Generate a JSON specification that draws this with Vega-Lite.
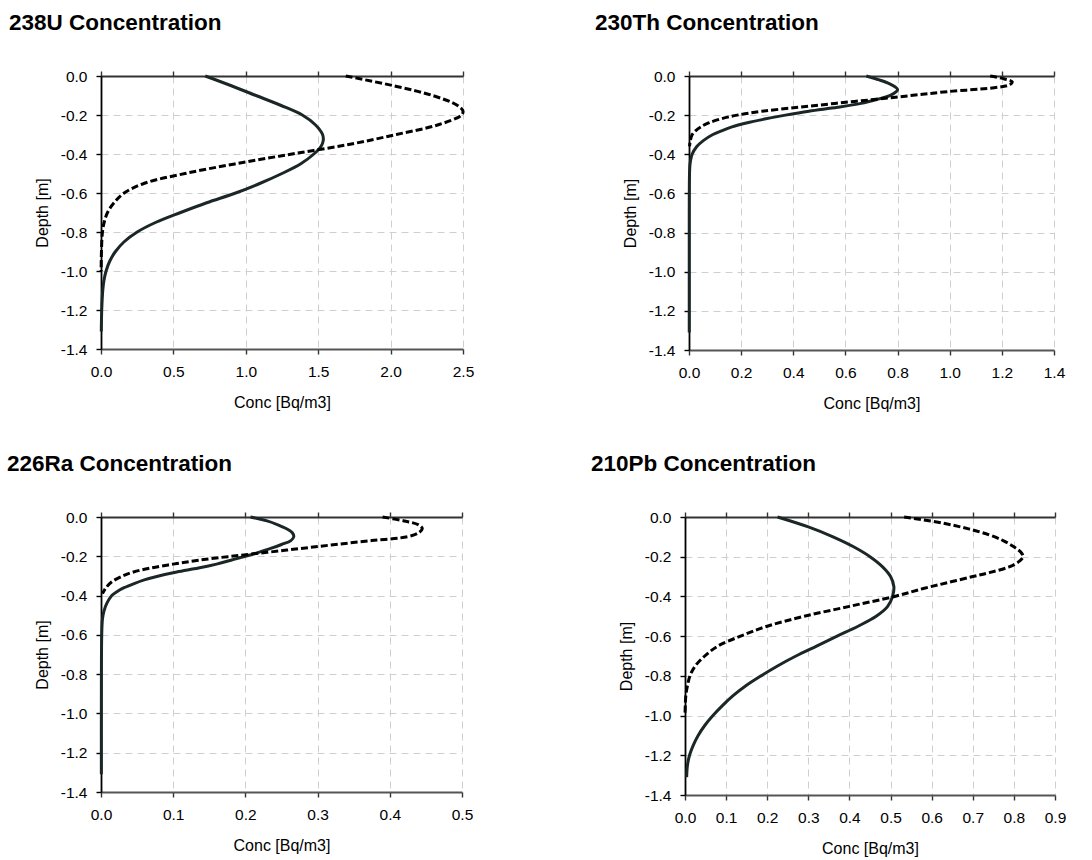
{
  "$schema": "https://vega.github.io/schema/vega-lite/v6.json",
  "autosize": {"type": "pad"},
  "padding": {"left": 7, "top": 11, "right": 5, "bottom": 5},
  "background": "white",
  "config": {
    "locale": {"number": {"decimal": ".", "thousands": ",", "grouping": [3], "currency": ["$", ""], "minus": "-"}},
    "font": "Liberation Sans",
    "view": {"stroke": null},
    "title": {"anchor": "start", "frame": "group", "fontSize": 22.5, "fontWeight": "bold", "color": "#000000", "offset": 35, "dx": -94, "font": "Liberation Sans"},
    "axis": {"labelFont": "Liberation Sans", "titleFont": "Liberation Sans", "labelFontSize": 15.5, "titleFontSize": 16, "titleFontWeight": "normal", "labelColor": "#000000", "titleColor": "#000000", "labelFlush": false, "labelOverlap": false, "gridColor": "#cfcfcf", "gridDash": [7, 5], "gridWidth": 1}
  },
  "datasets": {
    "u": [
      {"s": "a", "d": 0, "c": 0.72}, {"s": "a", "d": -0.05, "c": 0.9}, {"s": "a", "d": -0.1, "c": 1.07}, {"s": "a", "d": -0.15, "c": 1.24}, {"s": "a", "d": -0.2, "c": 1.39}, {"s": "a", "d": -0.25, "c": 1.48}, {"s": "a", "d": -0.3, "c": 1.53}, {"s": "a", "d": -0.33, "c": 1.535}, {"s": "a", "d": -0.36, "c": 1.52}, {"s": "a", "d": -0.4, "c": 1.47}, {"s": "a", "d": -0.45, "c": 1.38}, {"s": "a", "d": -0.5, "c": 1.25}, {"s": "a", "d": -0.55, "c": 1.1}, {"s": "a", "d": -0.6, "c": 0.93}, {"s": "a", "d": -0.65, "c": 0.73}, {"s": "a", "d": -0.7, "c": 0.55}, {"s": "a", "d": -0.75, "c": 0.38}, {"s": "a", "d": -0.8, "c": 0.25}, {"s": "a", "d": -0.85, "c": 0.16}, {"s": "a", "d": -0.9, "c": 0.1}, {"s": "a", "d": -0.95, "c": 0.06}, {"s": "a", "d": -1.0, "c": 0.035}, {"s": "a", "d": -1.05, "c": 0.02}, {"s": "a", "d": -1.1, "c": 0.012}, {"s": "a", "d": -1.2, "c": 0.005}, {"s": "a", "d": -1.31, "c": 0.002},
      {"s": "b", "d": 0, "c": 1.69}, {"s": "b", "d": -0.05, "c": 2.02}, {"s": "b", "d": -0.1, "c": 2.29}, {"s": "b", "d": -0.15, "c": 2.46}, {"s": "b", "d": -0.18, "c": 2.5}, {"s": "b", "d": -0.2, "c": 2.49}, {"s": "b", "d": -0.25, "c": 2.33}, {"s": "b", "d": -0.3, "c": 2.04}, {"s": "b", "d": -0.35, "c": 1.72}, {"s": "b", "d": -0.4, "c": 1.32}, {"s": "b", "d": -0.45, "c": 0.93}, {"s": "b", "d": -0.5, "c": 0.58}, {"s": "b", "d": -0.55, "c": 0.3}, {"s": "b", "d": -0.6, "c": 0.16}, {"s": "b", "d": -0.65, "c": 0.09}, {"s": "b", "d": -0.7, "c": 0.045}, {"s": "b", "d": -0.75, "c": 0.022}, {"s": "b", "d": -0.8, "c": 0.01}, {"s": "b", "d": -0.9, "c": 0.003}, {"s": "b", "d": -1.0, "c": 0.001}
    ],
    "th": [
      {"s": "a", "d": 0, "c": 0.68}, {"s": "a", "d": -0.02, "c": 0.73}, {"s": "a", "d": -0.04, "c": 0.77}, {"s": "a", "d": -0.06, "c": 0.795}, {"s": "a", "d": -0.07, "c": 0.8}, {"s": "a", "d": -0.08, "c": 0.795}, {"s": "a", "d": -0.1, "c": 0.77}, {"s": "a", "d": -0.12, "c": 0.72}, {"s": "a", "d": -0.14, "c": 0.66}, {"s": "a", "d": -0.16, "c": 0.57}, {"s": "a", "d": -0.18, "c": 0.46}, {"s": "a", "d": -0.2, "c": 0.37}, {"s": "a", "d": -0.22, "c": 0.29}, {"s": "a", "d": -0.24, "c": 0.22}, {"s": "a", "d": -0.26, "c": 0.165}, {"s": "a", "d": -0.28, "c": 0.125}, {"s": "a", "d": -0.3, "c": 0.09}, {"s": "a", "d": -0.33, "c": 0.055}, {"s": "a", "d": -0.36, "c": 0.03}, {"s": "a", "d": -0.4, "c": 0.012}, {"s": "a", "d": -0.45, "c": 0.004}, {"s": "a", "d": -0.5, "c": 0.002}, {"s": "a", "d": -0.7, "c": 0.001}, {"s": "a", "d": -1.0, "c": 0.001}, {"s": "a", "d": -1.31, "c": 0.001},
      {"s": "b", "d": 0, "c": 1.155}, {"s": "b", "d": -0.015, "c": 1.21}, {"s": "b", "d": -0.03, "c": 1.24}, {"s": "b", "d": -0.045, "c": 1.23}, {"s": "b", "d": -0.06, "c": 1.17}, {"s": "b", "d": -0.08, "c": 0.99}, {"s": "b", "d": -0.1, "c": 0.85}, {"s": "b", "d": -0.12, "c": 0.71}, {"s": "b", "d": -0.14, "c": 0.56}, {"s": "b", "d": -0.16, "c": 0.42}, {"s": "b", "d": -0.18, "c": 0.28}, {"s": "b", "d": -0.2, "c": 0.185}, {"s": "b", "d": -0.22, "c": 0.12}, {"s": "b", "d": -0.24, "c": 0.075}, {"s": "b", "d": -0.26, "c": 0.045}, {"s": "b", "d": -0.28, "c": 0.025}, {"s": "b", "d": -0.3, "c": 0.012}, {"s": "b", "d": -0.33, "c": 0.005}, {"s": "b", "d": -0.36, "c": 0.002}
    ],
    "ra": [
      {"s": "a", "d": 0, "c": 0.207}, {"s": "a", "d": -0.02, "c": 0.23}, {"s": "a", "d": -0.04, "c": 0.245}, {"s": "a", "d": -0.06, "c": 0.257}, {"s": "a", "d": -0.08, "c": 0.265}, {"s": "a", "d": -0.1, "c": 0.267}, {"s": "a", "d": -0.12, "c": 0.263}, {"s": "a", "d": -0.14, "c": 0.25}, {"s": "a", "d": -0.16, "c": 0.235}, {"s": "a", "d": -0.18, "c": 0.218}, {"s": "a", "d": -0.2, "c": 0.2}, {"s": "a", "d": -0.22, "c": 0.18}, {"s": "a", "d": -0.24, "c": 0.16}, {"s": "a", "d": -0.26, "c": 0.135}, {"s": "a", "d": -0.28, "c": 0.105}, {"s": "a", "d": -0.3, "c": 0.08}, {"s": "a", "d": -0.32, "c": 0.06}, {"s": "a", "d": -0.34, "c": 0.045}, {"s": "a", "d": -0.36, "c": 0.032}, {"s": "a", "d": -0.38, "c": 0.022}, {"s": "a", "d": -0.4, "c": 0.015}, {"s": "a", "d": -0.44, "c": 0.008}, {"s": "a", "d": -0.48, "c": 0.004}, {"s": "a", "d": -0.52, "c": 0.002}, {"s": "a", "d": -0.6, "c": 0.001}, {"s": "a", "d": -1.0, "c": 0.0005}, {"s": "a", "d": -1.31, "c": 0.0005},
      {"s": "b", "d": 0, "c": 0.39}, {"s": "b", "d": -0.02, "c": 0.42}, {"s": "b", "d": -0.04, "c": 0.44}, {"s": "b", "d": -0.06, "c": 0.445}, {"s": "b", "d": -0.08, "c": 0.44}, {"s": "b", "d": -0.1, "c": 0.425}, {"s": "b", "d": -0.12, "c": 0.375}, {"s": "b", "d": -0.14, "c": 0.325}, {"s": "b", "d": -0.16, "c": 0.277}, {"s": "b", "d": -0.18, "c": 0.23}, {"s": "b", "d": -0.2, "c": 0.18}, {"s": "b", "d": -0.22, "c": 0.135}, {"s": "b", "d": -0.24, "c": 0.1}, {"s": "b", "d": -0.26, "c": 0.068}, {"s": "b", "d": -0.28, "c": 0.045}, {"s": "b", "d": -0.3, "c": 0.03}, {"s": "b", "d": -0.33, "c": 0.015}, {"s": "b", "d": -0.36, "c": 0.007}, {"s": "b", "d": -0.39, "c": 0.002}
    ],
    "pb": [
      {"s": "a", "d": 0, "c": 0.225}, {"s": "a", "d": -0.05, "c": 0.3}, {"s": "a", "d": -0.1, "c": 0.36}, {"s": "a", "d": -0.15, "c": 0.41}, {"s": "a", "d": -0.2, "c": 0.45}, {"s": "a", "d": -0.25, "c": 0.48}, {"s": "a", "d": -0.3, "c": 0.5}, {"s": "a", "d": -0.35, "c": 0.508}, {"s": "a", "d": -0.4, "c": 0.505}, {"s": "a", "d": -0.45, "c": 0.493}, {"s": "a", "d": -0.5, "c": 0.465}, {"s": "a", "d": -0.55, "c": 0.421}, {"s": "a", "d": -0.6, "c": 0.37}, {"s": "a", "d": -0.65, "c": 0.32}, {"s": "a", "d": -0.7, "c": 0.27}, {"s": "a", "d": -0.75, "c": 0.225}, {"s": "a", "d": -0.8, "c": 0.185}, {"s": "a", "d": -0.85, "c": 0.148}, {"s": "a", "d": -0.9, "c": 0.117}, {"s": "a", "d": -0.95, "c": 0.091}, {"s": "a", "d": -1.0, "c": 0.068}, {"s": "a", "d": -1.05, "c": 0.048}, {"s": "a", "d": -1.1, "c": 0.032}, {"s": "a", "d": -1.15, "c": 0.02}, {"s": "a", "d": -1.2, "c": 0.011}, {"s": "a", "d": -1.25, "c": 0.006}, {"s": "a", "d": -1.31, "c": 0.004},
      {"s": "b", "d": 0, "c": 0.533}, {"s": "b", "d": -0.03, "c": 0.625}, {"s": "b", "d": -0.06, "c": 0.69}, {"s": "b", "d": -0.09, "c": 0.74}, {"s": "b", "d": -0.12, "c": 0.775}, {"s": "b", "d": -0.15, "c": 0.8}, {"s": "b", "d": -0.18, "c": 0.818}, {"s": "b", "d": -0.2, "c": 0.822}, {"s": "b", "d": -0.22, "c": 0.815}, {"s": "b", "d": -0.25, "c": 0.79}, {"s": "b", "d": -0.28, "c": 0.74}, {"s": "b", "d": -0.3, "c": 0.7}, {"s": "b", "d": -0.33, "c": 0.64}, {"s": "b", "d": -0.36, "c": 0.58}, {"s": "b", "d": -0.4, "c": 0.51}, {"s": "b", "d": -0.45, "c": 0.4}, {"s": "b", "d": -0.5, "c": 0.29}, {"s": "b", "d": -0.55, "c": 0.2}, {"s": "b", "d": -0.6, "c": 0.135}, {"s": "b", "d": -0.65, "c": 0.08}, {"s": "b", "d": -0.7, "c": 0.048}, {"s": "b", "d": -0.75, "c": 0.025}, {"s": "b", "d": -0.8, "c": 0.012}, {"s": "b", "d": -0.85, "c": 0.006}, {"s": "b", "d": -0.9, "c": 0.002}, {"s": "b", "d": -1.0, "c": 0.0}
    ]
  },
  "spacing": 441,
  "bounds": "flush",
  "vconcat": [
    {
      "spacing": 226,
      "bounds": "flush",
      "hconcat": [
        {
          "title": {"text": "238U Concentration", "dx": -92},
          "width": 362, "height": 273,
          "data": {"name": "u"},
          "layer": [
            {
              "transform": [{"filter": "datum.s == 'a'"}],
              "mark": {"type": "line", "color": "#1b2727", "strokeWidth": 3, "interpolate": "catmull-rom"},
              "encoding": {
                "x": {"field": "c", "type": "quantitative", "scale": {"domain": [0, 2.5], "nice": false}, "axis": {"orient": "bottom", "values": [0, 0.5, 1, 1.5, 2, 2.5], "format": ".1f", "title": "Conc [Bq/m3]", "labelPadding": 10, "titlePadding": 15, "domain": true, "ticks": true, "domainColor": "#555555", "domainWidth": 1.8, "tickColor": "#333333", "tickSize": 5, "tickWidth": 1.4}},
                "y": {"field": "d", "type": "quantitative", "scale": {"domain": [-1.4, 0], "nice": false}, "axis": {"orient": "left", "values": [-1.4, -1.2, -1.0, -0.8, -0.6, -0.4, -0.2, 0], "format": ".1f", "title": "Depth [m]", "labelPadding": 9, "titlePadding": 10, "domain": true, "ticks": true, "domainColor": "#000000", "domainWidth": 1.8, "tickColor": "#000000", "tickSize": 5, "tickWidth": 1.4}},
                "order": {"field": "d", "sort": "descending"}
              }
            },
            {
              "transform": [{"filter": "datum.s == 'b'"}],
              "mark": {"type": "line", "color": "#000000", "strokeWidth": 3, "strokeDash": [7, 3], "interpolate": "catmull-rom"},
              "encoding": {
                "x": {"field": "c", "type": "quantitative", "scale": {"domain": [0, 2.5], "nice": false}, "axis": {"orient": "top", "values": [0, 0.5, 1, 1.5, 2, 2.5], "labels": false, "grid": false, "title": null, "domain": true, "ticks": true, "domainColor": "#333333", "domainWidth": 1.8, "tickColor": "#333333", "tickSize": 5, "tickWidth": 1.4}},
                "y": {"field": "d", "type": "quantitative", "scale": {"domain": [-1.4, 0], "nice": false}, "axis": {"orient": "left", "values": [-1.4, -1.2, -1.0, -0.8, -0.6, -0.4, -0.2, 0], "format": ".1f", "title": "Depth [m]", "labelPadding": 9, "titlePadding": 10, "domain": true, "ticks": true, "domainColor": "#000000", "domainWidth": 1.8, "tickColor": "#000000", "tickSize": 5, "tickWidth": 1.4}},
                "order": {"field": "d", "sort": "descending"}
              }
            }
          ]
        },
        {
          "title": {"text": "230Th Concentration", "dx": -94},
          "width": 365, "height": 274,
          "data": {"name": "th"},
          "layer": [
            {
              "transform": [{"filter": "datum.s == 'a'"}],
              "mark": {"type": "line", "color": "#1b2727", "strokeWidth": 3, "interpolate": "catmull-rom"},
              "encoding": {
                "x": {"field": "c", "type": "quantitative", "scale": {"domain": [0, 1.4], "nice": false}, "axis": {"orient": "bottom", "values": [0, 0.2, 0.4, 0.6, 0.8, 1.0, 1.2, 1.4], "format": ".1f", "title": "Conc [Bq/m3]", "labelPadding": 10, "titlePadding": 15, "domain": true, "ticks": true, "domainColor": "#555555", "domainWidth": 1.8, "tickColor": "#333333", "tickSize": 5, "tickWidth": 1.4}},
                "y": {"field": "d", "type": "quantitative", "scale": {"domain": [-1.4, 0], "nice": false}, "axis": {"orient": "left", "values": [-1.4, -1.2, -1.0, -0.8, -0.6, -0.4, -0.2, 0], "format": ".1f", "title": "Depth [m]", "labelPadding": 9, "titlePadding": 10, "domain": true, "ticks": true, "domainColor": "#000000", "domainWidth": 1.8, "tickColor": "#000000", "tickSize": 5, "tickWidth": 1.4}},
                "order": {"field": "d", "sort": "descending"}
              }
            },
            {
              "transform": [{"filter": "datum.s == 'b'"}],
              "mark": {"type": "line", "color": "#000000", "strokeWidth": 3, "strokeDash": [7, 3], "interpolate": "catmull-rom"},
              "encoding": {
                "x": {"field": "c", "type": "quantitative", "scale": {"domain": [0, 1.4], "nice": false}, "axis": {"orient": "top", "values": [0, 0.2, 0.4, 0.6, 0.8, 1.0, 1.2, 1.4], "labels": false, "grid": false, "title": null, "domain": true, "ticks": true, "domainColor": "#333333", "domainWidth": 1.8, "tickColor": "#333333", "tickSize": 5, "tickWidth": 1.4}},
                "y": {"field": "d", "type": "quantitative", "scale": {"domain": [-1.4, 0], "nice": false}, "axis": {"orient": "left", "values": [-1.4, -1.2, -1.0, -0.8, -0.6, -0.4, -0.2, 0], "format": ".1f", "title": "Depth [m]", "labelPadding": 9, "titlePadding": 10, "domain": true, "ticks": true, "domainColor": "#000000", "domainWidth": 1.8, "tickColor": "#000000", "tickSize": 5, "tickWidth": 1.4}},
                "order": {"field": "d", "sort": "descending"}
              }
            }
          ]
        }
      ]
    },
    {
      "spacing": 223,
      "bounds": "flush",
      "hconcat": [
        {
          "title": {"text": "226Ra Concentration", "dx": -94},
          "width": 361, "height": 275,
          "data": {"name": "ra"},
          "layer": [
            {
              "transform": [{"filter": "datum.s == 'a'"}],
              "mark": {"type": "line", "color": "#1b2727", "strokeWidth": 3, "interpolate": "catmull-rom"},
              "encoding": {
                "x": {"field": "c", "type": "quantitative", "scale": {"domain": [0, 0.5], "nice": false}, "axis": {"orient": "bottom", "values": [0, 0.1, 0.2, 0.3, 0.4, 0.5], "format": ".1f", "title": "Conc [Bq/m3]", "labelPadding": 10, "titlePadding": 15, "domain": true, "ticks": true, "domainColor": "#555555", "domainWidth": 1.8, "tickColor": "#333333", "tickSize": 5, "tickWidth": 1.4}},
                "y": {"field": "d", "type": "quantitative", "scale": {"domain": [-1.4, 0], "nice": false}, "axis": {"orient": "left", "values": [-1.4, -1.2, -1.0, -0.8, -0.6, -0.4, -0.2, 0], "format": ".1f", "title": "Depth [m]", "labelPadding": 9, "titlePadding": 10, "domain": true, "ticks": true, "domainColor": "#000000", "domainWidth": 1.8, "tickColor": "#000000", "tickSize": 5, "tickWidth": 1.4}},
                "order": {"field": "d", "sort": "descending"}
              }
            },
            {
              "transform": [{"filter": "datum.s == 'b'"}],
              "mark": {"type": "line", "color": "#000000", "strokeWidth": 3, "strokeDash": [7, 3], "interpolate": "catmull-rom"},
              "encoding": {
                "x": {"field": "c", "type": "quantitative", "scale": {"domain": [0, 0.5], "nice": false}, "axis": {"orient": "top", "values": [0, 0.1, 0.2, 0.3, 0.4, 0.5], "labels": false, "grid": false, "title": null, "domain": true, "ticks": true, "domainColor": "#333333", "domainWidth": 1.8, "tickColor": "#333333", "tickSize": 5, "tickWidth": 1.4}},
                "y": {"field": "d", "type": "quantitative", "scale": {"domain": [-1.4, 0], "nice": false}, "axis": {"orient": "left", "values": [-1.4, -1.2, -1.0, -0.8, -0.6, -0.4, -0.2, 0], "format": ".1f", "title": "Depth [m]", "labelPadding": 9, "titlePadding": 10, "domain": true, "ticks": true, "domainColor": "#000000", "domainWidth": 1.8, "tickColor": "#000000", "tickSize": 5, "tickWidth": 1.4}},
                "order": {"field": "d", "sort": "descending"}
              }
            }
          ]
        },
        {
          "title": {"text": "210Pb Concentration", "dx": -94},
          "width": 370, "height": 278,
          "data": {"name": "pb"},
          "layer": [
            {
              "transform": [{"filter": "datum.s == 'a'"}],
              "mark": {"type": "line", "color": "#1b2727", "strokeWidth": 3, "interpolate": "catmull-rom"},
              "encoding": {
                "x": {"field": "c", "type": "quantitative", "scale": {"domain": [0, 0.9], "nice": false}, "axis": {"orient": "bottom", "values": [0, 0.1, 0.2, 0.3, 0.4, 0.5, 0.6, 0.7, 0.8, 0.9], "format": ".1f", "title": "Conc [Bq/m3]", "labelPadding": 10, "titlePadding": 15, "domain": true, "ticks": true, "domainColor": "#555555", "domainWidth": 1.8, "tickColor": "#333333", "tickSize": 5, "tickWidth": 1.4}},
                "y": {"field": "d", "type": "quantitative", "scale": {"domain": [-1.4, 0], "nice": false}, "axis": {"orient": "left", "values": [-1.4, -1.2, -1.0, -0.8, -0.6, -0.4, -0.2, 0], "format": ".1f", "title": "Depth [m]", "labelPadding": 9, "titlePadding": 10, "domain": true, "ticks": true, "domainColor": "#000000", "domainWidth": 1.8, "tickColor": "#000000", "tickSize": 5, "tickWidth": 1.4}},
                "order": {"field": "d", "sort": "descending"}
              }
            },
            {
              "transform": [{"filter": "datum.s == 'b'"}],
              "mark": {"type": "line", "color": "#000000", "strokeWidth": 3, "strokeDash": [7, 3], "interpolate": "catmull-rom"},
              "encoding": {
                "x": {"field": "c", "type": "quantitative", "scale": {"domain": [0, 0.9], "nice": false}, "axis": {"orient": "top", "values": [0, 0.1, 0.2, 0.3, 0.4, 0.5, 0.6, 0.7, 0.8, 0.9], "labels": false, "grid": false, "title": null, "domain": true, "ticks": true, "domainColor": "#333333", "domainWidth": 1.8, "tickColor": "#333333", "tickSize": 5, "tickWidth": 1.4}},
                "y": {"field": "d", "type": "quantitative", "scale": {"domain": [-1.4, 0], "nice": false}, "axis": {"orient": "left", "values": [-1.4, -1.2, -1.0, -0.8, -0.6, -0.4, -0.2, 0], "format": ".1f", "title": "Depth [m]", "labelPadding": 9, "titlePadding": 10, "domain": true, "ticks": true, "domainColor": "#000000", "domainWidth": 1.8, "tickColor": "#000000", "tickSize": 5, "tickWidth": 1.4}},
                "order": {"field": "d", "sort": "descending"}
              }
            }
          ]
        }
      ]
    }
  ]
}
